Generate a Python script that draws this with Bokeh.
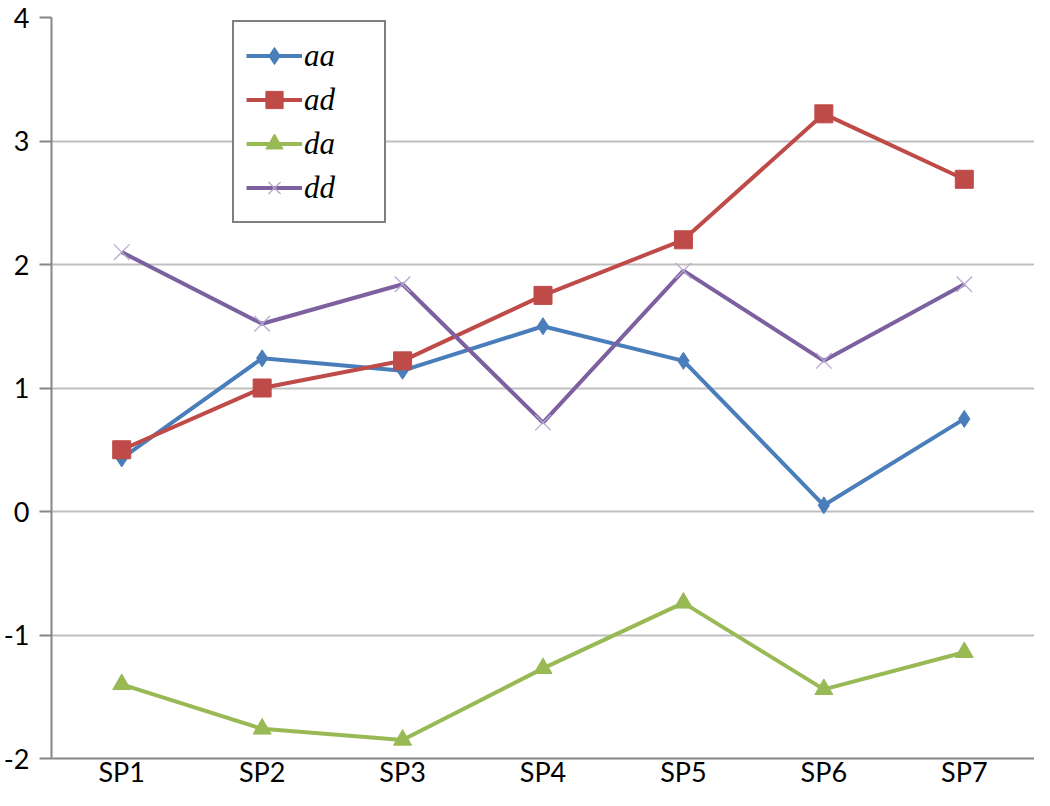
from bokeh.plotting import figure
from bokeh.models import FixedTicker, Legend, LegendItem
from bokeh.embed import file_html
from bokeh.resources import INLINE

categories = ["SP1", "SP2", "SP3", "SP4", "SP5", "SP6", "SP7"]
aa = [0.43, 1.24, 1.14, 1.50, 1.22, 0.05, 0.75]
ad = [0.50, 1.00, 1.22, 1.75, 2.20, 3.22, 2.69]
da = [-1.40, -1.76, -1.85, -1.27, -0.74, -1.44, -1.14]
dd = [2.10, 1.52, 1.84, 0.72, 1.95, 1.22, 1.84]
y_ticks = [-2, -1, 0, 1, 2, 3, 4]

p = figure(x_range=categories, y_range=(-2, 4), width=1034, height=790,
           output_backend="svg", toolbar_location=None,
           min_border_left=51, min_border_right=0, min_border_top=17, min_border_bottom=10)
p.outline_line_color = None
p.background_fill_color = "white"
p.border_fill_color = "white"

p.xgrid.grid_line_color = None
p.ygrid.grid_line_color = "#BFBFBF"
p.ygrid.grid_line_width = 2
p.yaxis.ticker = FixedTicker(ticks=y_ticks)
p.yaxis.major_label_overrides = {t: str(t) for t in y_ticks}

for ax in (p.xaxis, p.yaxis):
    ax.axis_line_color = "#868686"
    ax.axis_line_width = 2
    ax.minor_tick_line_color = None
    ax.minor_tick_out = 0
    ax.minor_tick_in = 0
    ax.major_label_text_font = "Lato"
    ax.major_label_text_font_size = "27px"
    ax.major_label_text_color = "#000000"

p.yaxis.major_tick_line_color = "#868686"
p.yaxis.major_tick_line_width = 2
p.yaxis.major_tick_out = 12
p.yaxis.major_tick_in = 0
p.yaxis.major_label_standoff = 10
p.xaxis.major_tick_line_color = None
p.xaxis.major_tick_out = 0
p.xaxis.major_tick_in = 0
p.xaxis.major_label_standoff = -4
p.xaxis.major_label_text_line_height = 0.9
p.xaxis.axis_label_standoff = 0

series = [
    ("aa", aa, "#4A7EBB", "diamond", "#4A7EBB", 17, 1),
    ("ad", ad, "#BE4B48", "square", "#BE4B48", 18, 1),
    ("da", da, "#98B954", "triangle", "#98B954", 18, 1),
    ("dd", dd, "#7D60A0", "x", "#B7A8D0", 22, 1.3),
]

items = []
for name, vals, col, mk, mcol, sz, mlw in series:
    r1 = p.line(categories, vals, line_color=col, line_width=4)
    if mk == "x":
        r2 = p.scatter(categories, vals, marker=mk, size=sz, line_color=mcol, line_width=mlw)
    else:
        r2 = p.scatter(categories, vals, marker=mk, size=sz, fill_color=mcol, line_color=mcol)
    items.append(LegendItem(label=name, renderers=[r1, r2]))

legend = Legend(items=items, location=(181, 535))
legend.border_line_color = "#000000"
legend.border_line_width = 2
legend.background_fill_color = "white"
legend.background_fill_alpha = 1
legend.padding = 12
legend.margin = 0
legend.spacing = 1
legend.glyph_width = 56
legend.glyph_height = 43
legend.label_height = 43
legend.label_width = 68
legend.label_standoff = 2
legend.label_text_font = "Liberation Serif"
legend.label_text_font_style = "italic"
legend.label_text_font_size = "31px"
legend.label_text_color = "#000000"
p.add_layout(legend, "center")

open("out.html", "w").write(file_html(p, INLINE))
